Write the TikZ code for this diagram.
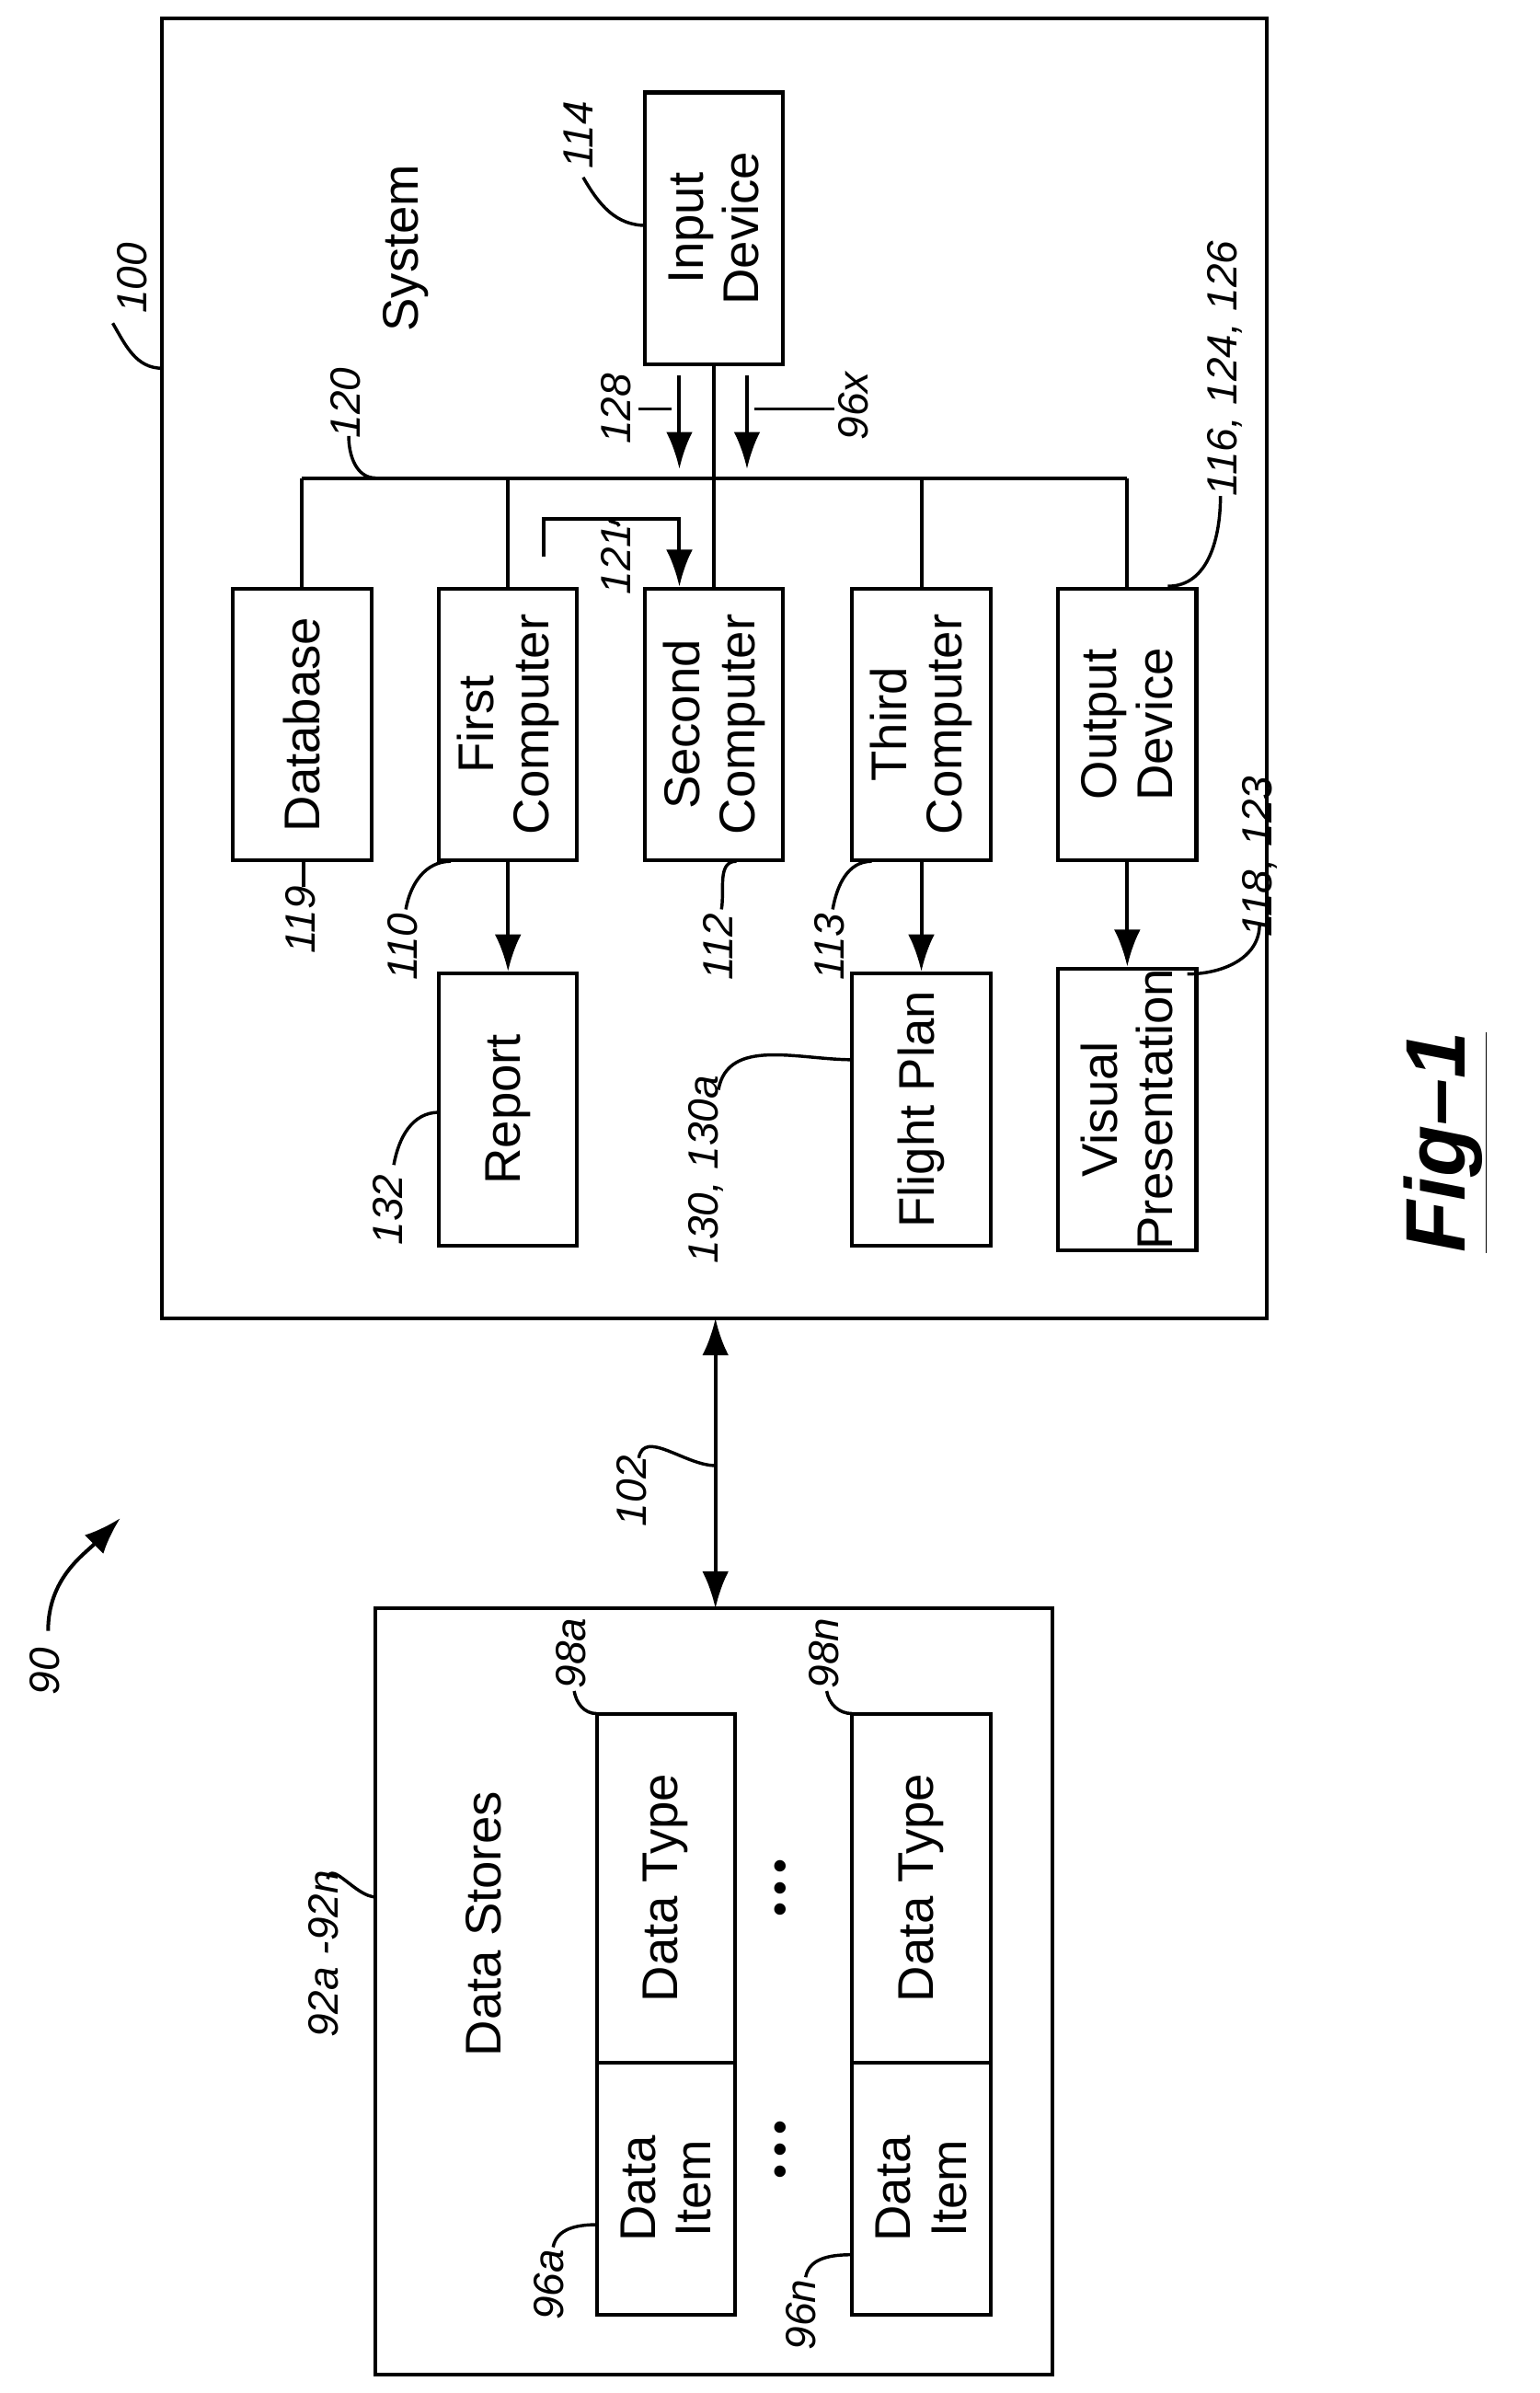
\documentclass[tikz,border=0pt]{standalone}
\usepackage{fontspec}
\setmainfont{Liberation Sans}
\usetikzlibrary{arrows.meta}
\tikzset{
  box/.style={draw,line width=1.4pt,rotate=90,align=center,inner sep=0pt,
              minimum width=3.62cm,minimum height=1.84cm,
              font=\fontsize{19}{21}\selectfont},
  num/.style={rotate=90,font=\fontsize{16}{18}\selectfont\itshape,inner sep=1pt},
  lead/.style={line width=1.2pt},
  conn/.style={line width=1.4pt},
  arr/.style={conn,-{Latex[length=14pt,width=10pt]}},
  dots/.style={rotate=90,font=\fontsize{16}{16}\selectfont,inner sep=0pt}
}
\begin{document}
\begin{tikzpicture}[x=0.02cm,y=-0.02cm]
\useasboundingbox (0,0) rectangle (1024,1592);
% system box
\draw[conn] (108,12) rectangle (843,877);
\node[rotate=90,font=\fontsize{19}{21}\selectfont] (systxt) at (270,165) {System};
\node[box] (inp) at (475,152) {Input\\Device};
% computers row
\node[box] (db) at (201,482) {Database};
\node[box] (fc) at (338,482) {First\\Computer};
\node[box] (sc) at (475,482) {Second\\Computer};
\node[box] (tc) at (613,482) {Third\\Computer};
\node[box] (od) at (750,482) {Output\\Device};
% outputs row
\node[box] (rep) at (338,738) {Report};
\node[box] (fp) at (613,738) {Flight Plan};
\node[box] (vp) at (750,738) {Visual\\Presentation};
% bus
\coordinate (busl) at (201,318);
\coordinate (busr) at (750,318);
\draw[conn] (busl) -- (busr);
\foreach \n in {db,fc,sc,tc,od} \draw[conn] (\n.east |- busl) -- (\n.east);
\draw[conn] (inp.west) -- (inp.west |- busl);
\coordinate (a128s) at (452,250); \coordinate (a128e) at (452,312);
\coordinate (a96s) at (497,250); \coordinate (a96e) at (497,312);
\draw[arr] (a128s) -- (a128e);
\draw[arr] (a96s) -- (a96e);
\coordinate (b1) at (362,370); \coordinate (b2) at (362,345); \coordinate (b3) at (452,345);
\draw[arr] (b1) -- (b2) -- (b3) -- (b3 |- sc.east);
\draw[arr] (fc.west) -- (rep.east);
\draw[arr] (tc.west) -- (fp.east);
\draw[arr] (od.west) -- (vp.east);
% labels system
\node[num] (l100) at (88,185) {100};
\draw[lead] (75,215) to[out=-60,in=180] (108,245);
\node[num] (l114) at (385,90) {114};
\draw[lead] (388,118) to[out=-60,in=180] (430,150);
\node[num] (l120) at (230,268) {120};
\draw[lead] (232,290) to[out=-90,in=180] (250,318);
\node[num] (l128) at (410,272) {128};
\draw[lead] (425,272) -- (447,272);
\node[num] (l96x) at (568,270) {96x};
\draw[lead] (502,272) -- (555,272);
\node[num] (l116) at (815,245) {116, 124, 126};
\draw[lead] (812,330) to[out=-90,in=0] (777,390);
\node[num] (l121) at (410,372) {121};
\draw[lead] (412,350) to[out=90,in=-90] (405,345);
\node[num] (l119) at (200,612) {119};
\draw[lead] (202,590) to[out=90,in=-90] (202,573);
\node[num] (l110) at (268,630) {110};
\draw[lead] (270,605) to[out=80,in=180] (300,573);
\node[num] (l112) at (478,630) {112};
\draw[lead] (480,605) to[out=80,in=180] (490,573);
\node[num] (l113) at (552,630) {113};
\draw[lead] (554,605) to[out=80,in=180] (580,573);
\node[num] (l118) at (838,570) {118, 123};
\draw[lead] (838,615) to[out=-90,in=0] (790,648);
\node[num] (l132) at (258,805) {132};
\draw[lead] (262,775) to[out=80,in=180] (292,740);
\node[num] (l130) at (470,778) {130, 130a};
\draw[lead] (478,725) to[out=80,in=180] (567,705);
% link
\coordinate (lkt) at (476,877); \coordinate (lkb) at (476,1070);
\draw[conn,{Latex[length=14pt,width=10pt]}-{Latex[length=14pt,width=10pt]}] (lkt) -- (lkb);
\node[num] (l102) at (420,992) {102};
\draw[lead] (425,970) to[out=80,in=180] (476,975);
% data stores
\draw[conn] (250,1070) rectangle (700,1580);
\node[rotate=90,font=\fontsize{19}{21}\selectfont] (dstxt) at (322,1280) {Data Stores};
\node[box,minimum width=4.64cm] (dta) at (443,1256) {Data Type};
\node[box,minimum width=3.36cm] (dia) at (443,1456) {Data\\Item};
\node[box,minimum width=4.64cm] (dtn) at (613,1256) {Data Type};
\node[box,minimum width=3.36cm] (din) at (613,1456) {Data\\Item};
\node[dots] (d1) at (522,1256) {\textbullet\,\textbullet\,\textbullet};
\node[dots] (d2) at (522,1430) {\textbullet\,\textbullet\,\textbullet};
\node[num] (l92) at (215,1300) {92a -92n};
\draw[lead] (218,1250) to[out=80,in=180] (250,1262);
\node[num] (l98a) at (380,1100) {98a};
\draw[lead] (382,1125) to[out=-80,in=180] (397,1140);
\node[num] (l98n) at (548,1100) {98n};
\draw[lead] (550,1125) to[out=-80,in=180] (567,1140);
\node[num] (l96a) at (365,1520) {96a};
\draw[lead] (368,1495) to[out=80,in=180] (397,1480);
\node[num] (l96n) at (533,1540) {96n};
\draw[lead] (536,1515) to[out=80,in=180] (567,1500);
% figure number
\node[num] (l90) at (30,1112) {90};
\coordinate (a90) at (80,1010);
\draw[arr] (32,1085) to[out=90,in=-135] (a90);
\node[rotate=90,font=\fontsize{32}{32}\selectfont\bfseries\itshape] (fig) at (962,760) {\underline{Fig--1}};
\end{tikzpicture}
\end{document}
